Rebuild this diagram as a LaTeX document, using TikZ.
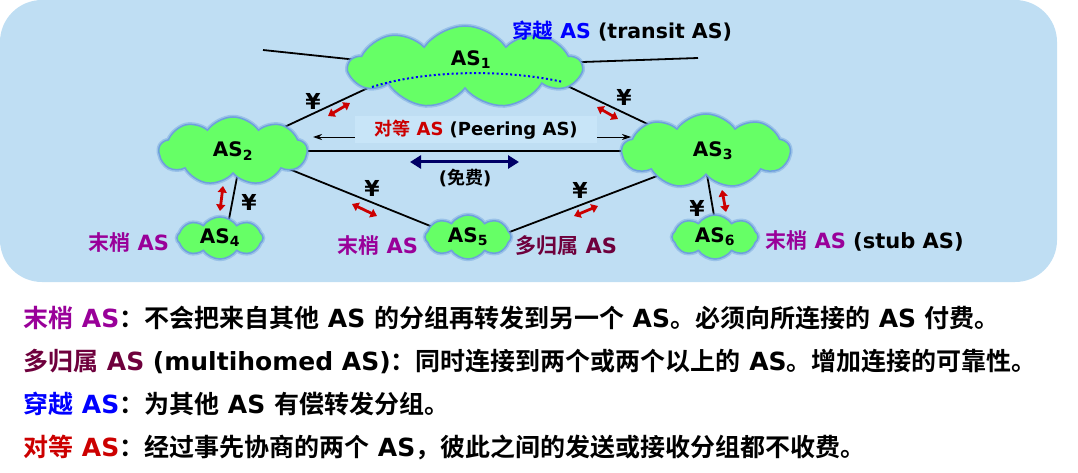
\documentclass[tikz,border=0pt]{standalone}
\usepackage{fontspec}
\setmainfont{DejaVu Sans}
\newfontfamily\zhf{Noto Sans CJK SC Bold}
\newcommand\zh[1]{{\zhf\mdseries #1}}
\usetikzlibrary{shapes.symbols,arrows.meta}
\definecolor{bgblue}{RGB}{191,222,243}
\definecolor{boxblue}{RGB}{200,229,248}
\definecolor{cloudgreen}{RGB}{102,255,102}
\definecolor{cloudedge}{RGB}{110,160,220}
\definecolor{stubpurple}{RGB}{153,0,153}
\definecolor{multimaroon}{RGB}{110,0,60}
\definecolor{peerred}{RGB}{204,0,0}
\definecolor{navyarrow}{RGB}{0,0,102}
\pgfdeclarelayer{bglayer}
\pgfdeclarelayer{linelayer}
\pgfsetlayers{bglayer,linelayer,main}
\tikzset{
  asnode/.style={cloud, cloud puffs=9, cloud puff arc=110, cloud ignores aspect, fill=cloudgreen, draw=cloudedge, line width=1.5pt,
    preaction={draw=cloudedge, line width=4.5pt, draw opacity=0.45},
    inner sep=0pt, font=\bfseries\fontsize{20}{24}\selectfont},
  link/.style={line width=1.8pt, black},
  pay/.style={red!80!black, line width=2.8pt, {Triangle[length=6.5pt,width=9pt]}-{Triangle[length=6.5pt,width=9pt]}},
  yen/.style={font=\bfseries\fontsize{22}{24}\selectfont},
  lbl/.style={font=\bfseries\fontsize{21}{24}\selectfont},
  body/.style={anchor=west, inner sep=0pt, font=\bfseries\fontsize{25}{28}\selectfont}
}
\begin{document}
\begin{tikzpicture}[x=1pt,y=-1pt]
\useasboundingbox (0,0) rectangle (1078,473);
\begin{pgfonlayer}{bglayer}
\fill[bgblue, rounded corners=42pt] (0,0) rectangle (1057,282);
\end{pgfonlayer}
% clouds
\node[asnode, minimum width=232pt, minimum height=82pt] (as1) at (465,67) {};
\node[font=\bfseries\fontsize{20}{24}\selectfont] (as1t) at (471,60) {AS\textsubscript{1}};
\node[asnode, minimum width=148pt, minimum height=68pt] (as2) at (233,151) {AS\textsubscript{2}};
\node[asnode, minimum width=168pt, minimum height=74pt] (as3) at (706,151) {\hspace*{14pt}AS\textsubscript{3}};
\node[asnode, cloud puffs=8, minimum width=86pt, minimum height=42pt] (as4) at (220,238) {AS\textsubscript{4}};
\node[asnode, cloud puffs=8, minimum width=86pt, minimum height=44pt] (as5) at (468,237) {AS\textsubscript{5}};
\node[asnode, cloud puffs=8, minimum width=86pt, minimum height=44pt] (as6) at (715,237) {AS\textsubscript{6}};
\draw[blue, line width=2pt, dash pattern=on 2pt off 2.5pt] ([shift={(-93,20)}]as1.center) .. controls ([shift={(-40,3)}]as1.center) and ([shift={(40,2)}]as1.center) .. ([shift={(98,15)}]as1.center);
% connector lines behind clouds
\coordinate (t1) at (263,50);
\coordinate (t2) at (698,58);
\begin{pgfonlayer}{linelayer}
\draw[link] (t1) -- ([shift={(-60,-2)}]as1.center);
\draw[link] (t2) -- ([shift={(60,-3)}]as1.center);
\draw[link] (as2.center) -- ([shift={(-65,6)}]as1.center);
\draw[link] ([shift={(75,6)}]as1.center) -- ([shift={(9,5)}]as3.center);
\draw[link] (as2.center) -- (as3.center);
\draw[link] ([shift={(-1,-5)}]as2.center) -- ([shift={(2,5)}]as5.center);
\draw[link] ([shift={(2,10)}]as5.center) -- ([shift={(9,3)}]as3.center);
\draw[link] ([shift={(9,0)}]as2.center) -- ([shift={(5,2)}]as4.center);
\draw[link] ([shift={(-3,0)}]as3.center) -- ([shift={(3,2)}]as6.center);
\end{pgfonlayer}
% peering box
\node[fill=boxblue, minimum width=242pt, minimum height=27pt, inner sep=0pt, font=\bfseries\fontsize{18}{20}\selectfont] (peer) at (476,130) {\textcolor{peerred}{\zh{对等} AS} (Peering AS)};
\coordinate (pl) at (313,137);
\coordinate (pr) at (631,137);
\draw[line width=0.8pt, -{Stealth[length=9pt,width=6pt]}] (peer.west |- pl) -- (pl);
\draw[line width=0.8pt, -{Stealth[length=9pt,width=6pt]}] (peer.east |- pr) -- (pr);
\coordinate (fa) at (410,162);
\coordinate (fb) at (519,162);
\draw[navyarrow, line width=3pt, {Triangle[length=11pt,width=13pt]}-{Triangle[length=11pt,width=13pt]}] (fa) -- (fb);
\node[font=\bfseries\fontsize{18}{20}\selectfont] (free) at (465,178) {(\zh{免费})};
% payment arrows
\coordinate (p1a) at (328,116); \coordinate (p1b) at (350,103);
\coordinate (p2a) at (597,107); \coordinate (p2b) at (618,119);
\coordinate (p3a) at (223,186); \coordinate (p3b) at (220,211);
\coordinate (p4a) at (352,204); \coordinate (p4b) at (377,216);
\coordinate (p5a) at (574,216); \coordinate (p5b) at (598,206);
\coordinate (p6a) at (722,190); \coordinate (p6b) at (726,212);
\draw[pay] (p1a) -- (p1b);
\draw[pay] (p2a) -- (p2b);
\draw[pay] (p3a) -- (p3b);
\draw[pay] (p4a) -- (p4b);
\draw[pay] (p5a) -- (p5b);
\draw[pay] (p6a) -- (p6b);
% yen labels
\node[yen] (y1) at (313,101) {¥};
\node[yen] (y2) at (624,97) {¥};
\node[yen] (y3) at (249,202) {¥};
\node[yen] (y4) at (372,188) {¥};
\node[yen] (y5) at (580,190) {¥};
\node[yen] (y6) at (697,208) {¥};
% labels
\node[lbl, font=\bfseries\fontsize{20.5}{24}\selectfont, anchor=west, inner sep=0pt] (ltr) at (512,31) {\textcolor{blue}{\zh{穿越} AS} (transit AS)};
\node[lbl, anchor=west, inner sep=0pt, text=stubpurple] (ls4) at (88,243) {\zh{末梢} AS};
\node[lbl, anchor=west, inner sep=0pt, text=stubpurple] (ls5) at (337,246) {\zh{末梢} AS};
\node[lbl, anchor=west, inner sep=0pt, text=multimaroon] (lm5) at (515,246) {\zh{多归属} AS};
\node[lbl, anchor=west, inner sep=0pt] (ls6) at (765,241) {\textcolor{stubpurple}{\zh{末梢} AS} (stub AS)};
% body text
\node[body] (b1) at (23,318) {\textcolor{stubpurple}{\zh{末梢} AS}\zh{：不会把来自其他} AS \zh{的分组再转发到另一个} AS\zh{。必须向所连接的} AS \zh{付费。}};
\node[body] (b2) at (23,361) {\textcolor{multimaroon}{\zh{多归属} AS} (multihomed AS)\zh{：同时连接到两个或两个以上的} AS\zh{。增加连接的可靠性。}};
\node[body] (b3) at (23,404) {\textcolor{blue}{\zh{穿越} AS}\zh{：为其他} AS \zh{有偿转发分组。}};
\node[body] (b4) at (23,447) {\textcolor{peerred}{\zh{对等} AS}\zh{：经过事先协商的两个} AS\zh{，彼此之间的发送或接收分组都不收费。}};
\end{tikzpicture}
\end{document}
